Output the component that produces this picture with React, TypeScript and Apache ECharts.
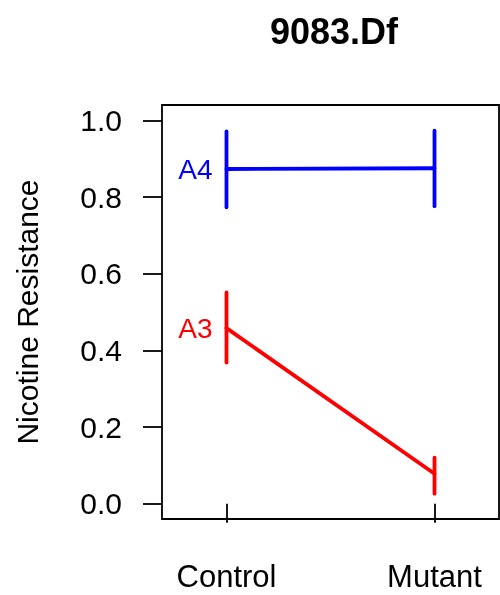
import React, { useEffect, useRef } from "react";
import * as echarts from "echarts";

const categories = ["Control", "Mutant"];
const xPositions = [1, 2];
const yTicks = [0, 0.2, 0.4, 0.6, 0.8, 1.0];
const seriesNames = ["A4", "A3"];
const seriesColors = ["#0000FF", "#FF0000"];
const meanA4 = [0.873, 0.875];
const lowA4 = [0.773, 0.776];
const highA4 = [0.971, 0.973];
const meanA3 = [0.458, 0.078];
const lowA3 = [0.368, 0.026];
const highA3 = [0.551, 0.12];

const FONT = "'Liberation Sans', Arial, Helvetica, sans-serif";

export default function App() {
  const ref = useRef<HTMLDivElement>(null);
  useEffect(() => {
    if (!ref.current) return;
    const chart = echarts.init(ref.current, null, { renderer: "svg" });
    const means = [meanA4, meanA3];
    const lows = [lowA4, lowA3];
    const highs = [highA4, highA3];
    const series: any[] = [];
    seriesNames.forEach((name, i) => {
      const color = seriesColors[i];
      series.push({
        name,
        type: "line",
        data: xPositions.map((x, j) => [x, means[i][j]]),
        showSymbol: false,
        symbol: "none",
        lineStyle: { color, width: 3.8, cap: "round" },
        z: 3,
      });
      series.push({
        name: name + " err",
        type: "custom",
        data: xPositions.map((x, j) => [x, lows[i][j], highs[i][j]]),
        renderItem: (params: any, api: any) => {
          const x = api.value(0);
          const p1 = api.coord([x, api.value(1)]);
          const p2 = api.coord([x, api.value(2)]);
          return {
            type: "line",
            shape: { x1: p1[0], y1: p1[1], x2: p2[0], y2: p2[1] },
            style: { stroke: color, lineWidth: 3.8, lineCap: "round" },
          };
        },
        z: 4,
      });
      series.push({
        name: name + " label",
        type: "scatter",
        data: [[xPositions[0], means[i][0]]],
        symbolSize: 0,
        itemStyle: { opacity: 1, color },
        label: {
          show: true,
          position: "left",
          distance: 14,
          formatter: () => name,
          color,
          opacity: 1,
          fontSize: 28,
          fontFamily: FONT,
        },
        z: 5,
      });
    });
    chart.setOption({
      animation: false,
      title: {
        text: "9083.Df",
        left: 265,
        top: 8,
        textStyle: { fontSize: 36, fontWeight: "bold", fontFamily: FONT, color: "#000" },
      },
      grid: {
        left: 162,
        right: 1,
        top: 105,
        bottom: 76,
        show: true,
        borderColor: "#000",
        borderWidth: 1.8,
      },
      xAxis: {
        type: "value",
        min: 0.69,
        max: 2.31,
        splitLine: { show: false },
        axisLine: { show: false },
        axisTick: {
          show: true,
          length: 19,
          customValues: xPositions,
          lineStyle: { color: "#000", width: 1.8 },
        },
        axisLabel: {
          customValues: xPositions,
          formatter: (v: number) => categories[Math.round(v) - 1] ?? "",
          margin: 42,
          fontSize: 31,
          color: "#000",
          fontFamily: FONT,
        },
      },
      yAxis: {
        type: "value",
        min: -0.04,
        max: 1.04,
        name: "Nicotine Resistance",
        nameLocation: "middle",
        nameGap: 120,
        nameTextStyle: { fontSize: 30, color: "#000", fontFamily: FONT },
        splitLine: { show: false },
        axisLine: { show: false },
        axisTick: {
          show: true,
          length: 19,
          customValues: yTicks,
          lineStyle: { color: "#000", width: 1.8 },
        },
        axisLabel: {
          customValues: yTicks,
          formatter: (v: number) => v.toFixed(1),
          margin: 40,
          fontSize: 30,
          color: "#000",
          fontFamily: FONT,
        },
      },
      series,
    });
    return () => chart.dispose();
  }, []);
  return (
    <div
      ref={ref}
      style={{ position: "fixed", left: 0, top: 0, width: 500, height: 595 }}
    />
  );
}
